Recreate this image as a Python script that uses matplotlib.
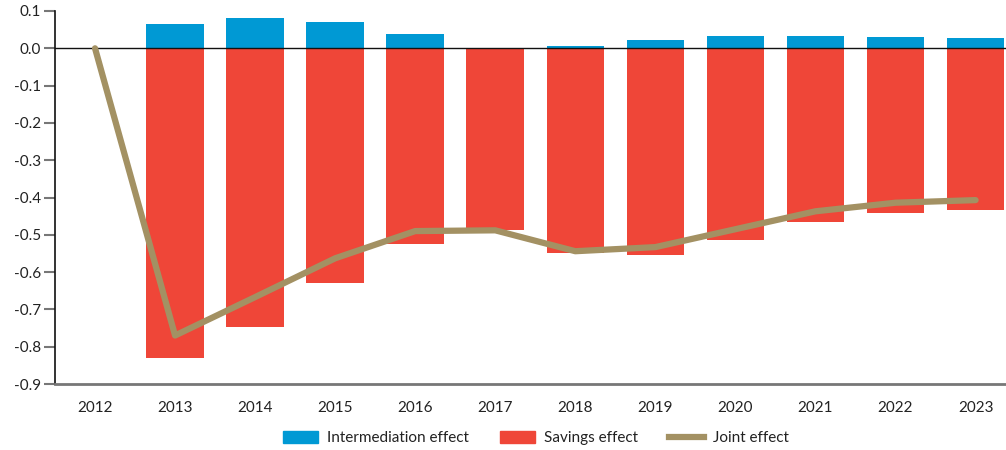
import matplotlib
matplotlib.use("Agg")
import matplotlib.pyplot as plt
from matplotlib.patches import Patch
from matplotlib.lines import Line2D

plt.rcParams['font.family'] = ['Lato', 'DejaVu Sans']

years = ['2012', '2013', '2014', '2015', '2016', '2017', '2018', '2019', '2020', '2021', '2022', '2023']
intermediation = [0.0, 0.064, 0.080, 0.070, 0.037, 0.0, 0.005, 0.021, 0.032, 0.032, 0.029, 0.027]
savings = [0.0, -0.830, -0.747, -0.630, -0.525, -0.488, -0.550, -0.555, -0.514, -0.466, -0.441, -0.434]
joint = [0.0, -0.770, -0.667, -0.563, -0.490, -0.488, -0.544, -0.533, -0.485, -0.437, -0.414, -0.407]

blue = '#0099d4'
red = '#ef4638'
gold = '#a39163'

W, H = 1006, 450
fig = plt.figure(figsize=(W / 100, H / 100), dpi=100)
ax = fig.add_axes([55 / W, 66 / H, (W - 55) / W, (384 - 11) / H])

x = list(range(len(years)))
ax.bar(x, intermediation, width=0.72, color=blue, zorder=2)
ax.bar(x, savings, width=0.72, color=red, zorder=2)
ax.plot(x, joint, color=gold, lw=4.5, solid_capstyle='round', solid_joinstyle='round', zorder=4)
ax.axhline(0, color='#111111', lw=1.0, zorder=3)

ax.set_xlim(-0.5, 11.38)
ax.set_ylim(-0.9, 0.1)
ax.set_yticks([0.1 - 0.1 * i for i in range(11)])
ax.set_yticklabels(['%.1f' % (0.1 - 0.1 * i) if i != 1 else '0.0' for i in range(11)])
ax.set_xticks(x)
ax.set_xticklabels(years)

for s in ['top', 'right']:
    ax.spines[s].set_visible(False)
ax.spines['left'].set_color('#111111')
ax.spines['left'].set_linewidth(1.2)
ax.spines['bottom'].set_color('#777777')
ax.spines['bottom'].set_linewidth(2)
ax.tick_params(axis='y', length=8, width=1.5, color='#777777', labelsize=11, pad=2, labelcolor='#222222')
ax.tick_params(axis='x', length=0, labelsize=11, pad=12, labelcolor='#222222')

handles = [Patch(color=blue, label='Intermediation effect'),
           Patch(color=red, label='Savings effect'),
           Line2D([0], [0], color=gold, lw=4.5, label='Joint effect')]
fig.legend(handles=handles, loc='center', bbox_to_anchor=(536 / W, 1 - 438 / H), ncol=3,
           frameon=False, fontsize=11, handlelength=2.3, handleheight=0.9,
           columnspacing=2.0, handletextpad=0.6, labelcolor='#222222')

fig.savefig('out.png', dpi=100)
